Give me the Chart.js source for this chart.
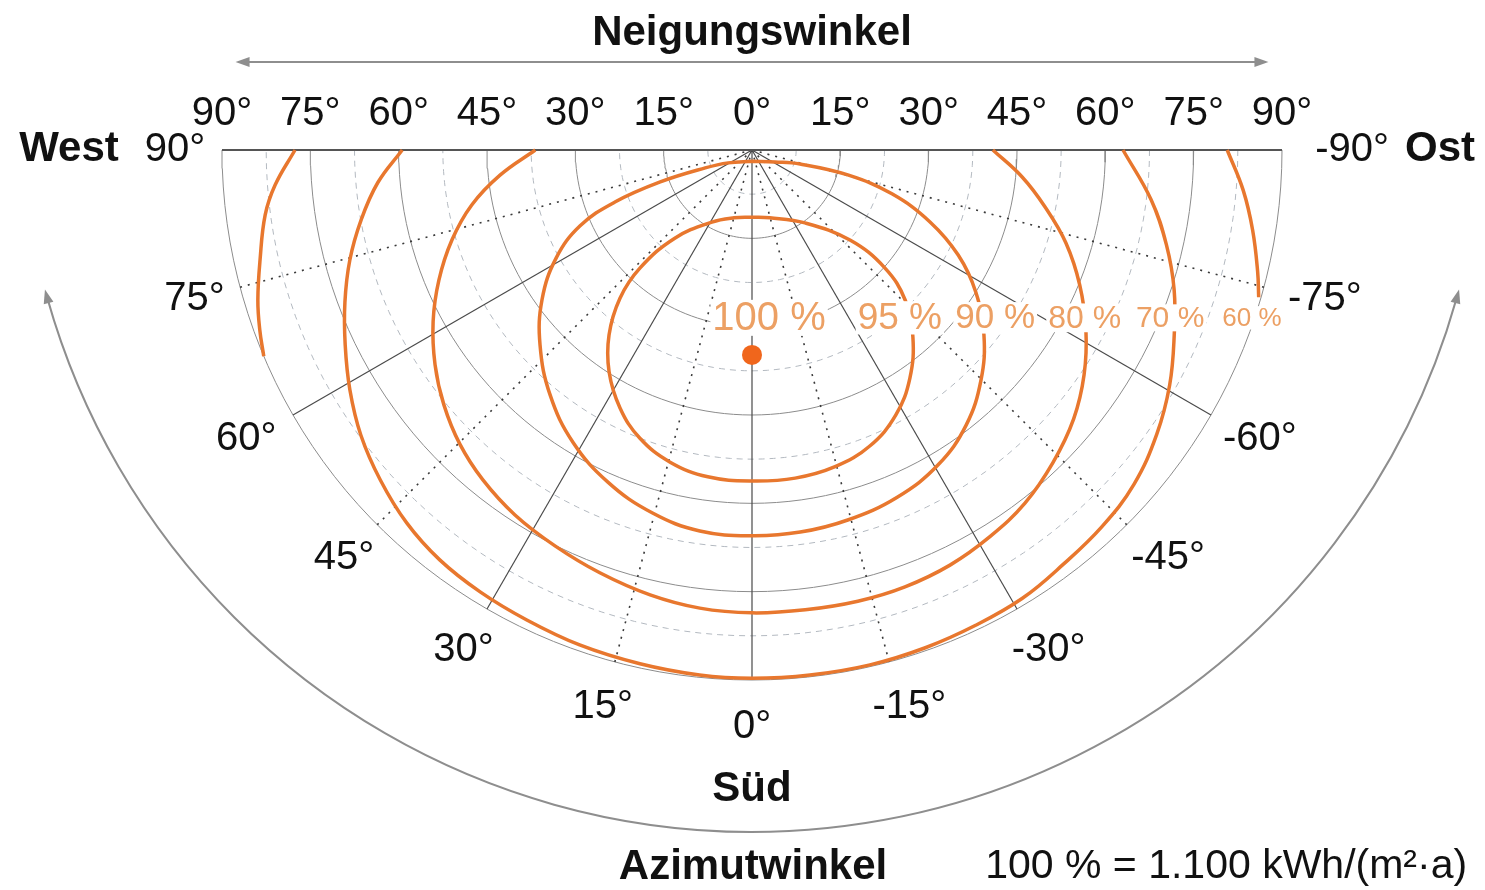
<!DOCTYPE html>
<html lang="de">
<head>
<meta charset="utf-8">
<title>Einstrahlung nach Neigungs- und Azimutwinkel</title>
<script src="https://cdn.jsdelivr.net/npm/chart.js@4.4.1/dist/chart.umd.min.js"></script>
<style>
  html, body { margin: 0; padding: 0; background: #fff; }
  #wrap { width: 1485px; height: 890px; }
</style>
</head>
<body>
<div id="wrap"><canvas id="chart" width="1485" height="890"></canvas></div>
<script>
// axis ticks
const tiltLabels = [90, 75, 60, 45, 30, 15, 0, 15, 30, 45, 60, 75, 90];
const azimuthLabels = [90, 75, 60, 45, 30, 15, 0, -15, -30, -45, -60, -75, -90];
const tiltRings = [15, 30, 45, 60, 75, 90];
const tiltHalfRings = [7.5, 22.5, 37.5, 52.5, 67.5, 82.5];
const azimuthSolid = [-60, -30, 0, 30, 60];
const azimuthDotted = [-75, -45, -15, 15, 45, 75];

// contours as [azimuth, tilt] (azimuth > 0 = West)
const optimum = [0, 34.8];
const c95 = [[0, 11.4], [-14.8, 11.9], [-36.0, 15.3], [-47.4, 22.6], [-48.4, 30.2], [-45.6, 36.4], [-40.7, 41.9],
  [-34.7, 47.1], [-28.5, 51.2], [-21.7, 54.1], [-14.7, 55.6], [-7.5, 56.2], [0, 56.2], [7.7, 56.0],
  [14.7, 54.8], [21.3, 52.5], [27.1, 49.2], [32.8, 44.8], [37.7, 39.7], [41.7, 33.7], [43.5, 27.6],
  [41.2, 19.9], [29.1, 14.0], [14.8, 11.9], [0, 11.4]];
const c90 = [[0, 1.9], [-62.4, 4.4], [-73.7, 8.5], [-75.4, 16.8], [-72.6, 24.9], [-68.0, 32.6], [-63.0, 39.3],
  [-57.6, 45.0], [-51.4, 50.4], [-44.9, 55.1], [-37.9, 59.2], [-30.6, 62.1], [-22.7, 63.9],
  [-14.5, 64.9], [-7.2, 65.4], [0, 65.5], [7.8, 65.3], [15.4, 63.9], [23.4, 61.5], [31.5, 58.2],
  [39.5, 53.9], [47.4, 48.9], [54.5, 43.8], [61.1, 38.0], [66.2, 31.9], [69.2, 24.9], [70.8, 16.5],
  [69.0, 8.5], [61.6, 4.6], [0, 1.9]];
const c80 = [[90, 36.8], [84.3, 43.0], [78.9, 48.5], [73.3, 53.2], [67.4, 57.6], [61.7, 61.5],
  [55.9, 65.0], [50.4, 67.9], [44.8, 70.4], [39.2, 72.3], [33.0, 73.9], [26.4, 75.1], [19.8, 76.3],
  [12.9, 77.5], [6.5, 78.3], [0, 78.6], [-6.6, 78.6], [-13.2, 78.7], [-19.3, 78.6], [-25.5, 78.1],
  [-31.6, 77.1], [-37.7, 75.8], [-43.9, 73.7], [-50.1, 71.2], [-55.9, 68.1], [-61.7, 64.4],
  [-67.6, 60.2], [-73.5, 55.6], [-79.0, 50.7], [-84.3, 46.1], [-90, 40.9]];
const c70 = [[90, 59.4], [85.0, 63.8], [79.9, 67.4], [74.7, 70.8], [69.5, 73.8], [64.4, 76.6],
  [59.2, 79.5], [53.9, 82.2], [48.4, 84.4], [42.8, 86.3], [37.3, 87.5], [31.6, 88.1], [25.6, 88.5],
  [19.2, 89.0], [12.3, 89.3], [5.7, 89.6], [0, 89.7], [-6.3, 89.7], [-12.9, 89.7], [-19.2, 89.5],
  [-25.2, 89.2], [-31.1, 88.9], [-36.9, 88.0], [-42.9, 87.3], [-48.8, 86.2], [-54.9, 84.0],
  [-60.6, 81.4], [-66.3, 78.3], [-71.7, 75.5], [-77.1, 72.2], [-82.9, 68.3], [-90, 63.0]];
const c60West = [[90, 77.6], [85.8, 81.2], [82.4, 83.4], [77.4, 85.6], [73.1, 87.7], [69.9, 89.0], [67.1, 90]];
const c60East = [[-90, 80.7], [-85.3, 83.7], [-80.9, 86.1], [-76.5, 88.3], [-73.8, 89.6]];
const levelNames = ['100 %', '95 %', '90 %', '80 %', '70 %', '60 %'];

const FONT = "'Liberation Sans', Arial, sans-serif";
const ORANGE = '#e8772e';

function toXY(az, tilt) {
  const a = az * Math.PI / 180;
  return { x: -tilt * Math.sin(a), y: -tilt * Math.cos(a) };
}
function ring(tilt) {
  const pts = [];
  for (let az = -90; az <= 90; az += 2) pts.push(toXY(az, tilt));
  return pts;
}
function spoke(az) {
  return [toXY(az, 0), toXY(az, 90)];
}
function line(data, style) {
  return Object.assign({
    data, showLine: true, pointRadius: 0, tension: 0, clip: false, fill: false, borderWidth: 1
  }, style);
}

const datasets = [];
tiltHalfRings.forEach(t => datasets.push(line(ring(t), { borderColor: '#b3b9c0', borderDash: [6, 5], order: 20 })));
tiltRings.forEach(t => datasets.push(line(ring(t), { borderColor: '#8c8c8c', order: 19 })));
azimuthDotted.forEach(a => datasets.push(line(spoke(a), { borderColor: '#3a3a3a', borderDash: [2, 6], borderWidth: 1.6, order: 18 })));
azimuthSolid.forEach(a => datasets.push(line(spoke(a), { borderColor: '#4a4a4a', borderWidth: 1.2, order: 17 })));
datasets.push(line([toXY(90, 90), toXY(-90, 90)], { borderColor: '#555', borderWidth: 2, order: 16 }));

[c95, c90, c80, c70, c60West, c60East].forEach(c => {
  datasets.push(line(c.map(p => toXY(p[0], p[1])), { borderColor: ORANGE, borderWidth: 3.5, tension: 0.4, order: 2 }));
});
datasets.push({
  data: [toXY(optimum[0], optimum[1])], pointRadius: 10, pointBackgroundColor: '#f0661c',
  pointBorderWidth: 0, clip: false, order: 1
});

function arrowHead(ctx, x, y, ang) {
  ctx.save();
  ctx.translate(x, y);
  ctx.rotate(ang);
  ctx.beginPath();
  ctx.moveTo(0, 0);
  ctx.lineTo(-14, -5);
  ctx.lineTo(-14, 5);
  ctx.closePath();
  ctx.fill();
  ctx.restore();
}

const decor = {
  id: 'decor',
  afterDatasetsDraw(chart) {
    const { ctx, scales: { x, y } } = chart;
    const px = v => x.getPixelForValue(v);
    const py = v => y.getPixelForValue(v);
    const unit = px(1) - px(0);
    const cx = px(0), cy = py(0);

    ctx.save();
    // contour labels with white background
    const spots = [[2.9, 40], [25.1, 37], [41.3, 35], [56.5, 32], [71.0, 30], [84.9, 26]];
    ctx.textAlign = 'center';
    ctx.textBaseline = 'middle';
    levelNames.forEach((txt, i) => {
      const [lx, size] = spots[i];
      ctx.font = size + 'px ' + FONT;
      const w = ctx.measureText(txt).width;
      const tx = px(lx), ty = py(-28.5);
      ctx.fillStyle = '#fff';
      ctx.fillRect(tx - w / 2 - 2, ty - size * 0.45, w + 4, size * 0.9);
      ctx.fillStyle = '#eca064';
      ctx.fillText(txt, tx, ty + 1);
    });

    ctx.fillStyle = '#111';
    ctx.font = '40px ' + FONT;
    // tilt labels along the top
    tiltLabels.forEach((t, i) => {
      const v = i < 6 ? -t : t;
      ctx.fillText(t + '°', px(v), cy - 36);
    });
    // azimuth labels around the half circle
    azimuthLabels.forEach(a => {
      const p = toXY(a, 98);
      const nudge = a < 0 ? 8 + Math.max(0, -a - 60) * 0.5 : (a === 60 ? -6 : 0);
      ctx.fillText(a + '°', px(p.x) + nudge, py(p.y));
    });

    ctx.font = 'bold 42px ' + FONT;
    ctx.fillText('Neigungswinkel', cx, cy - 117);
    ctx.fillText('West', px(-90) - 153, cy - 1);
    ctx.fillText('Ost', px(90) + 158, cy - 1);
    ctx.fillText('Süd', cx, py(-90) + 109);
    ctx.fillText('Azimutwinkel', cx + 1, py(-90) + 187);
    ctx.font = '41px ' + FONT;
    ctx.textAlign = 'left';
    ctx.fillText('100 % = 1.100 kWh/(m²·a)', px(39.6), py(-90) + 187);

    // arrows
    ctx.strokeStyle = '#8e8e8e';
    ctx.fillStyle = '#8e8e8e';
    ctx.lineWidth = 2;
    const ay = cy - 88;
    const ax1 = px(-87.7), ax2 = px(87.7);
    ctx.beginPath();
    ctx.moveTo(ax1 + 4, ay);
    ctx.lineTo(ax2 - 4, ay);
    ctx.stroke();
    arrowHead(ctx, ax1, ay, Math.PI);
    arrowHead(ctx, ax2, ay, 0);

    const acx = cx, acy = cy - 8.5 * unit, ar = 124.3 * unit;
    const a0 = 15 * Math.PI / 180, a1 = 165 * Math.PI / 180;
    ctx.beginPath();
    ctx.arc(acx, acy, ar, a0 + 0.012, a1 - 0.012);
    ctx.stroke();
    arrowHead(ctx, acx + ar * Math.cos(a1), acy + ar * Math.sin(a1), Math.atan2(Math.cos(a1), -Math.sin(a1)));
    arrowHead(ctx, acx + ar * Math.cos(a0), acy + ar * Math.sin(a0), Math.atan2(-Math.cos(a0), Math.sin(a0)));
    ctx.restore();
  }
};

new Chart(document.getElementById('chart'), {
  type: 'scatter',
  data: { datasets },
  options: {
    responsive: false,
    animation: false,
    events: [],
    layout: { padding: { left: 222, right: 203, top: 150, bottom: 210 } },
    scales: {
      x: { type: 'linear', min: -90, max: 90, display: false },
      y: { type: 'linear', min: -90, max: 0, display: false }
    },
    plugins: { legend: { display: false }, tooltip: { enabled: false } }
  },
  plugins: [decor]
});
</script>
</body>
</html>
